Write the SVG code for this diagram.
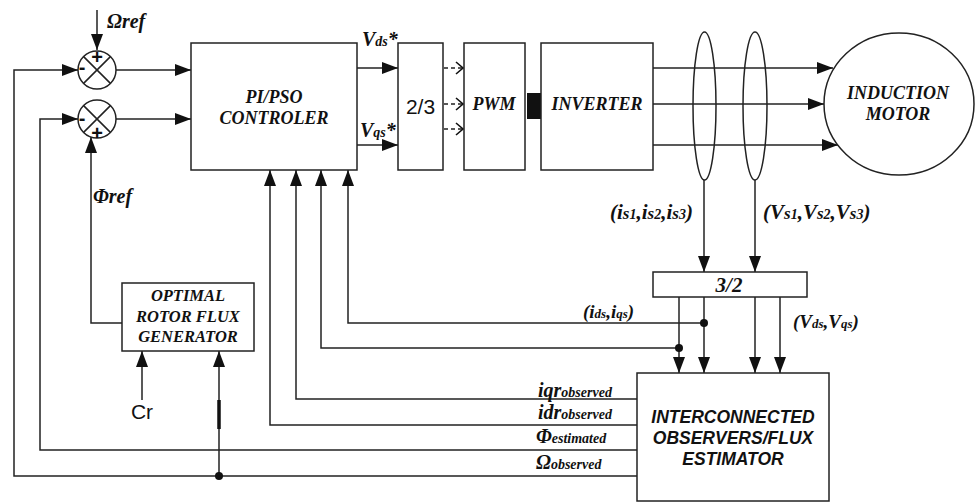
<svg xmlns="http://www.w3.org/2000/svg" width="978" height="503" viewBox="0 0 978 503">
<style>
.ln{fill:none;stroke:#222;stroke-width:1.5}
.bx{fill:#fff;stroke:#222;stroke-width:1.5}
.tb{font-family:"Liberation Serif","Times New Roman",serif;font-weight:bold;font-style:italic;fill:#111}
.ts{font-family:"Liberation Sans",Arial,sans-serif;fill:#111}
.tsb{font-family:"Liberation Sans",Arial,sans-serif;font-weight:bold;font-style:italic;fill:#111}
.sg{font-family:"Liberation Sans",Arial,sans-serif;font-weight:bold;fill:#111}
.dash{fill:none;stroke:#222;stroke-width:1.5;stroke-dasharray:4,3}
.dot{fill:#111}
</style>
<defs>
<marker id="arr" markerUnits="userSpaceOnUse" markerWidth="16" markerHeight="12" refX="16" refY="6" orient="auto"><path d="M0,0 L16,6 L0,12 z" fill="#111"/></marker>
<marker id="chev" markerUnits="userSpaceOnUse" markerWidth="10" markerHeight="14" refX="8" refY="7" orient="auto"><path d="M1,1 L8,7 L1,13" fill="none" stroke="#111" stroke-width="1.6"/></marker>
</defs>

<g id="connectors">
<path class="ln" d="M97,10 V50" marker-end="url(#arr)"/>
<path class="ln" d="M637,476 H14 V70 H78" marker-end="url(#arr)"/>
<path class="ln" d="M116,70 H191" marker-end="url(#arr)"/>
<path class="ln" d="M637,450 H40 V119 H78" marker-end="url(#arr)"/>
<path class="ln" d="M116,119 H191" marker-end="url(#arr)"/>
<path class="ln" d="M122,323 H91 V137" marker-end="url(#arr)"/>
<path class="ln" d="M357,68 H398" marker-end="url(#arr)"/>
<path class="ln" d="M357,145 H398" marker-end="url(#arr)"/>
<path class="dash" d="M444,68 H463" marker-end="url(#chev)"/>
<path class="dash" d="M444,104 H463" marker-end="url(#chev)"/>
<path class="dash" d="M444,129 H463" marker-end="url(#chev)"/>
<path class="ln" d="M653,68 H833" marker-end="url(#arr)"/>
<path class="ln" d="M653,104 H824" marker-end="url(#arr)"/>
<path class="ln" d="M653,145 H838" marker-end="url(#arr)"/>
<path class="ln" d="M704,180 V272" marker-end="url(#arr)"/>
<path class="ln" d="M755,180 V272" marker-end="url(#arr)"/>
<path class="ln" d="M679,297 V373" marker-end="url(#arr)"/>
<path class="ln" d="M704,297 V373" marker-end="url(#arr)"/>
<path class="ln" d="M755,297 V373" marker-end="url(#arr)"/>
<path class="ln" d="M780,297 V373" marker-end="url(#arr)"/>
<path class="ln" d="M704,323 H348 V170" marker-end="url(#arr)"/>
<path class="ln" d="M679,348 H321 V170" marker-end="url(#arr)"/>
<path class="ln" d="M637,399 H296 V170" marker-end="url(#arr)"/>
<path class="ln" d="M637,425 H270 V170" marker-end="url(#arr)"/>
<path class="ln" d="M219,476 V351" marker-end="url(#arr)"/>
<path d="M219,400 V429" stroke="#111" stroke-width="3.5"/>
<path class="ln" d="M142,400 V351" marker-end="url(#arr)"/>
<circle class="dot" cx="704" cy="323" r="4"/>
<circle class="dot" cx="679" cy="348" r="4"/>
<circle class="dot" cx="219" cy="476" r="4"/>
<ellipse class="ln" cx="704.5" cy="106" rx="11.5" ry="74"/>
<ellipse class="ln" cx="755" cy="106" rx="12" ry="74"/>
</g>

<g id="sum1">
<circle class="bx" cx="97" cy="70" r="19"/>
<path class="ln" d="M83.6,56.6 L110.4,83.4 M110.4,56.6 L83.6,83.4"/>
<text class="sg" x="97" y="64" font-size="20" text-anchor="middle">+</text>
<text class="sg" x="82" y="74" font-size="20" text-anchor="middle">-</text>
</g>
<g id="sum2">
<circle class="bx" cx="97" cy="119" r="19"/>
<path class="ln" d="M83.6,105.6 L110.4,132.4 M110.4,105.6 L83.6,132.4"/>
<text class="sg" x="82" y="125" font-size="20" text-anchor="middle">-</text>
<text class="sg" x="97" y="140" font-size="20" text-anchor="middle">+</text>
</g>

<g id="pi">
<rect class="bx" x="191" y="43" width="166" height="127"/>
<text class="tb" x="274" y="103" font-size="18" text-anchor="middle">PI/PSO</text>
<text class="tb" x="274" y="124" font-size="18" text-anchor="middle">CONTROLER</text>
</g>
<g id="t23">
<rect class="bx" x="398" y="43" width="45" height="127"/>
<text class="ts" x="420.5" y="114" font-size="21" text-anchor="middle">2/3</text>
</g>
<g id="pwm">
<rect class="bx" x="464" y="43" width="61" height="127"/>
<text class="tb" x="494" y="110" font-size="18" text-anchor="middle">PWM</text>
</g>
<rect x="527" y="93" width="16" height="26" fill="#111"/>
<g id="inverter">
<rect class="bx" x="541" y="43" width="112" height="127"/>
<text class="tb" x="597" y="110" font-size="18" text-anchor="middle">INVERTER</text>
</g>
<g id="motor">
<ellipse class="bx" cx="899" cy="104" rx="75" ry="71"/>
<text class="tb" x="898" y="99" font-size="18" text-anchor="middle">INDUCTION</text>
<text class="tb" x="898" y="120" font-size="18" text-anchor="middle">MOTOR</text>
</g>
<g id="t32">
<rect class="bx" x="653" y="272" width="154" height="25"/>
<text class="tb" x="729" y="292" font-size="21" text-anchor="middle" font-style="normal">3/2</text>
</g>
<g id="estimator">
<rect class="bx" x="637" y="373" width="192" height="128"/>
<text class="tsb" x="733" y="423" font-size="17.5" text-anchor="middle">INTERCONNECTED</text>
<text class="tsb" x="733" y="444" font-size="17.5" text-anchor="middle">OBSERVERS/FLUX</text>
<text class="tsb" x="733" y="465" font-size="17.5" text-anchor="middle">ESTIMATOR</text>
</g>
<g id="optimal">
<rect class="bx" x="122" y="283" width="132" height="68"/>
<text class="tb" x="188" y="301" font-size="16.5" text-anchor="middle">OPTIMAL</text>
<text class="tb" x="188" y="322" font-size="16.5" text-anchor="middle">ROTOR FLUX</text>
<text class="tb" x="188" y="342" font-size="16.5" text-anchor="middle">GENERATOR</text>
</g>

<g id="labels">
<text class="tb" x="107" y="28" font-size="20">Ωref</text>
<text class="tb" x="93" y="203" font-size="20">Φref</text>
<text class="ts" x="142" y="419" font-size="21" text-anchor="middle">Cr</text>
<text class="tb" x="362" y="46" font-size="20">V<tspan font-size="14">ds</tspan>*</text>
<text class="tb" x="360" y="137" font-size="20">V<tspan font-size="14">qs</tspan>*</text>
<text class="tb" x="610" y="219" font-size="21">(i<tspan font-size="17">s</tspan><tspan font-size="14">1</tspan>,i<tspan font-size="17">s</tspan><tspan font-size="14">2</tspan>,i<tspan font-size="17">s</tspan><tspan font-size="14">3</tspan>)</text>
<text class="tb" x="763" y="219" font-size="21">(V<tspan font-size="17">s</tspan><tspan font-size="14">1</tspan>,V<tspan font-size="17">s</tspan><tspan font-size="14">2</tspan>,V<tspan font-size="17">s</tspan><tspan font-size="14">3</tspan>)</text>
<text class="tb" x="583" y="318" font-size="19">(i<tspan font-size="13">ds</tspan>,i<tspan font-size="13">qs</tspan>)</text>
<text class="tb" x="793" y="328" font-size="19">(V<tspan font-size="13">ds</tspan>,V<tspan font-size="13">qs</tspan>)</text>
<text class="tb" x="538" y="397" font-size="20">iqr<tspan font-size="14">observed</tspan></text>
<text class="tb" x="538" y="419" font-size="20">idr<tspan font-size="14">observed</tspan></text>
<text class="tb" x="536" y="443" font-size="20">Φ<tspan font-size="14">estimated</tspan></text>
<text class="tb" x="536" y="469" font-size="20">Ω<tspan font-size="14">observed</tspan></text>
</g>
</svg>
